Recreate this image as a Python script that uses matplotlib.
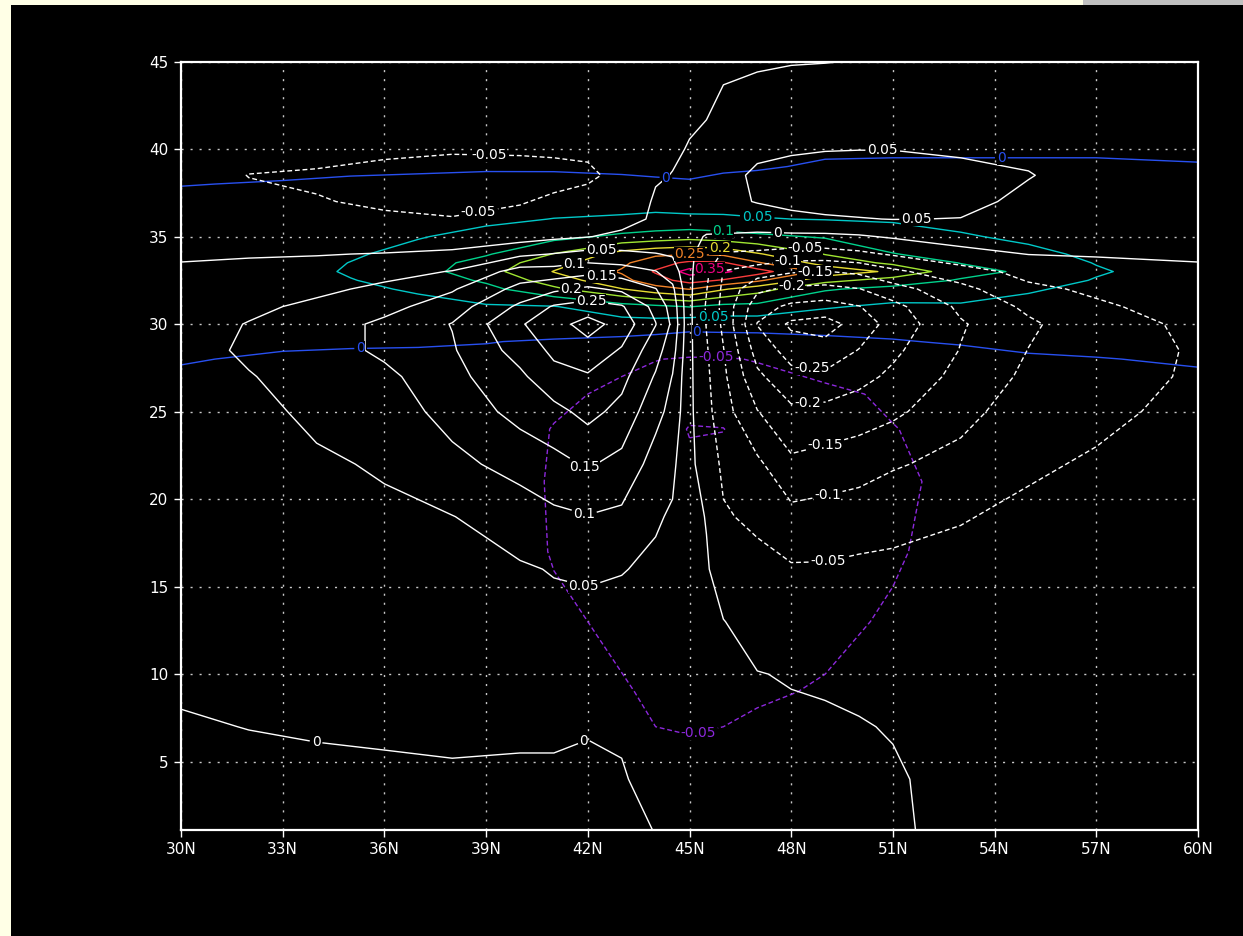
import matplotlib
matplotlib.use("Agg")
import matplotlib.pyplot as plt
import numpy as np
from matplotlib.patches import Rectangle

# ---- field A (coloured contours), one list per latitude column ----
lat_a = [30, 33, 35, 37, 39, 41, 43, 44, 45, 46, 47, 49, 51, 53, 55, 57, 60]
hgt_a = [1.1, 5, 9, 13, 17, 21, 24, 26, 28, 29, 30, 31, 32, 32.5, 33, 33.5,
         34, 35, 36, 37, 38, 39, 40, 42, 45]
field_a = [
    [-0.02, -0.02, -0.02, -0.02, -0.02, -0.02, -0.015, -0.01, 0.002, 0.008, 0.012, 0.016, 0.02, 0.02, 0.02, 0.02, 0.02, 0.017, 0.013, 0.007, -0.001, -0.008, -0.012, -0.015, -0.015],
    [-0.02, -0.02, -0.02, -0.02, -0.02, -0.02, -0.018, -0.014, -0.004, 0.005, 0.012, 0.018, 0.024, 0.027, 0.03, 0.029, 0.027, 0.022, 0.016, 0.009, 0.002, -0.008, -0.012, -0.015, -0.015],
    [-0.02, -0.02, -0.02, -0.02, -0.02, -0.02, -0.018, -0.014, -0.006, 0.004, 0.015, 0.026, 0.04, 0.048, 0.055, 0.051, 0.044, 0.033, 0.024, 0.015, 0.005, -0.006, -0.011, -0.015, -0.015],
    [-0.02, -0.02, -0.02, -0.02, -0.02, -0.02, -0.019, -0.013, -0.006, 0.003, 0.018, 0.035, 0.056, 0.068, 0.08, 0.075, 0.066, 0.047, 0.033, 0.02, 0.007, -0.005, -0.01, -0.014, -0.015],
    [-0.02, -0.02, -0.02, -0.02, -0.02, -0.02, -0.02, -0.015, -0.007, 0.001, 0.02, 0.045, 0.085, 0.108, 0.13, 0.12, 0.095, 0.065, 0.04, 0.025, 0.01, -0.004, -0.01, -0.014, -0.015],
    [-0.025, -0.028, -0.032, -0.042, -0.053, -0.055, -0.052, -0.04, -0.015, -0.003, 0.018, 0.048, 0.14, 0.175, 0.202, 0.18, 0.152, 0.085, 0.051, 0.03, 0.012, -0.005, -0.01, -0.014, -0.015],
    [-0.03, -0.035, -0.047, -0.058, -0.063, -0.065, -0.065, -0.06, -0.04, -0.012, 0.03, 0.08, 0.198, 0.235, 0.255, 0.24, 0.22, 0.11, 0.055, 0.035, 0.006, -0.005, -0.01, -0.013, -0.015],
    [-0.035, -0.045, -0.055, -0.065, -0.068, -0.07, -0.07, -0.065, -0.049, -0.02, 0.03, 0.09, 0.23, 0.28, 0.305, 0.28, 0.24, 0.12, 0.058, 0.037, 0.004, -0.006, -0.01, -0.013, -0.015],
    [-0.035, -0.045, -0.058, -0.068, -0.075, -0.085, -0.103, -0.075, -0.053, -0.025, 0.02, 0.102, 0.252, 0.32, 0.37, 0.31, 0.248, 0.13, 0.055, 0.038, 0.003, -0.008, -0.012, -0.014, -0.015],
    [-0.035, -0.044, -0.056, -0.066, -0.072, -0.082, -0.101, -0.073, -0.053, -0.022, 0.02, 0.085, 0.205, 0.295, 0.36, 0.305, 0.24, 0.12, 0.055, 0.036, 0.01, -0.006, -0.01, -0.013, -0.015],
    [-0.032, -0.04, -0.053, -0.063, -0.07, -0.075, -0.074, -0.068, -0.048, -0.02, 0.02, 0.085, 0.17, 0.26, 0.32, 0.255, 0.205, 0.11, 0.052, 0.035, 0.014, -0.004, -0.01, -0.013, -0.015],
    [-0.03, -0.037, -0.048, -0.056, -0.06, -0.062, -0.062, -0.057, -0.035, -0.008, 0.015, 0.055, 0.105, 0.165, 0.235, 0.18, 0.148, 0.095, 0.048, 0.035, 0.02, 0.005, -0.007, -0.012, -0.015],
    [-0.028, -0.033, -0.04, -0.047, -0.053, -0.056, -0.051, -0.045, -0.02, -0.002, 0.012, 0.04, 0.085, 0.13, 0.19, 0.14, 0.102, 0.07, 0.045, 0.034, 0.022, 0.008, -0.008, -0.012, -0.015],
    [-0.025, -0.028, -0.032, -0.037, -0.04, -0.042, -0.04, -0.032, -0.012, 0.003, 0.015, 0.045, 0.07, 0.095, 0.12, 0.098, 0.08, 0.054, 0.038, 0.03, 0.02, 0.007, -0.007, -0.012, -0.015],
    [-0.022, -0.024, -0.026, -0.028, -0.03, -0.03, -0.028, -0.02, -0.004, 0.008, 0.018, 0.035, 0.055, 0.072, 0.09, 0.075, 0.06, 0.042, 0.032, 0.025, 0.017, 0.006, -0.006, -0.012, -0.015],
    [-0.02, -0.022, -0.023, -0.024, -0.025, -0.025, -0.022, -0.015, -0.001, 0.008, 0.016, 0.026, 0.038, 0.047, 0.055, 0.048, 0.042, 0.032, 0.026, 0.02, 0.014, 0.005, -0.005, -0.011, -0.015],
    [-0.02, -0.02, -0.02, -0.02, -0.02, -0.02, -0.018, -0.01, 0.003, 0.008, 0.013, 0.018, 0.022, 0.024, 0.025, 0.024, 0.022, 0.019, 0.016, 0.012, 0.008, 0.002, -0.006, -0.01, -0.015],
]
levels_a = [-0.1, -0.05, 0, 0.05, 0.1, 0.15, 0.2, 0.25, 0.3, 0.35]
colors_a = ["#8c28dc", "#8c28dc", "#2850f0", "#00c8c8", "#00d28c", "#a0e632",
            "#e6dc32", "#f08228", "#fa3c3c", "#f00082"]

# ---- field B (white contours), one list per latitude column ----
lat_b = [30, 32, 34, 36, 38, 40, 41, 42, 43, 44, 44.5, 45, 45.5, 46, 47, 48,
         49, 50, 51, 53, 55, 57, 60]
hgt_b = [1.1, 4, 7, 10, 13, 16, 19, 22, 25, 27, 28.5, 30, 31, 32, 33, 34, 35,
         36, 37, 38.5, 40, 42, 45]
field_b = [
    [-0.03, -0.02, -0.005, 0.01, 0.02, 0.025, 0.03, 0.03, 0.03, 0.035, 0.035, 0.03, 0.025, 0.018, 0.006, -0.005, -0.015, -0.02, -0.025, -0.025, -0.02, -0.015, -0.01],
    [-0.03, -0.015, 0.001, 0.015, 0.025, 0.03, 0.033, 0.037, 0.042, 0.048, 0.056, 0.052, 0.04, 0.025, 0.01, -0.003, -0.02, -0.03, -0.04, -0.051, -0.03, -0.02, -0.01],
    [-0.025, -0.012, 0.005, 0.02, 0.03, 0.035, 0.04, 0.046, 0.056, 0.065, 0.075, 0.075, 0.06, 0.04, 0.018, -0.002, -0.025, -0.04, -0.048, -0.055, -0.035, -0.02, -0.01],
    [-0.02, -0.01, 0.008, 0.025, 0.035, 0.04, 0.045, 0.053, 0.07, 0.088, 0.11, 0.11, 0.085, 0.06, 0.035, 0.002, -0.03, -0.045, -0.055, -0.065, -0.04, -0.02, -0.01],
    [-0.02, -0.008, 0.012, 0.028, 0.038, 0.044, 0.049, 0.085, 0.12, 0.135, 0.145, 0.152, 0.125, 0.095, 0.052, 0.01, -0.03, -0.048, -0.062, -0.07, -0.045, -0.022, -0.01],
    [-0.018, -0.008, 0.008, 0.025, 0.037, 0.046, 0.07, 0.12, 0.165, 0.19, 0.22, 0.245, 0.21, 0.165, 0.12, 0.04, -0.02, -0.042, -0.052, -0.065, -0.045, -0.022, -0.01],
    [-0.017, -0.006, 0.006, 0.025, 0.04, 0.052, 0.09, 0.135, 0.185, 0.235, 0.26, 0.28, 0.255, 0.19, 0.12, 0.052, -0.01, -0.035, -0.045, -0.06, -0.045, -0.022, -0.01],
    [-0.015, -0.006, 0.002, 0.025, 0.04, 0.055, 0.098, 0.155, 0.215, 0.245, 0.28, 0.32, 0.27, 0.21, 0.135, 0.065, -0.002, -0.025, -0.04, -0.055, -0.045, -0.022, -0.01],
    [-0.01, -0.002, 0.003, 0.02, 0.035, 0.052, 0.09, 0.135, 0.185, 0.215, 0.245, 0.28, 0.255, 0.19, 0.125, 0.06, 0.012, -0.02, -0.03, -0.042, -0.03, -0.018, -0.008],
    [0.001, 0.008, 0.015, 0.022, 0.03, 0.042, 0.055, 0.08, 0.115, 0.145, 0.17, 0.202, 0.185, 0.152, 0.102, 0.052, 0.015, 0.008, 0.005, -0.004, -0.01, -0.012, -0.008],
    [0.005, 0.01, 0.015, 0.02, 0.025, 0.035, 0.045, 0.06, 0.085, 0.098, 0.12, 0.14, 0.13, 0.11, 0.075, 0.045, 0.02, 0.012, 0.008, 0.001, -0.005, -0.008, -0.006],
    [0.015, 0.018, 0.02, 0.02, 0.02, 0.02, 0.015, 0.01, 0.01, 0.01, 0.01, 0.01, 0.01, 0.01, 0.01, 0.01, 0.012, 0.015, 0.015, 0.01, 0.002, -0.005, -0.005],
    [0.015, 0.015, 0.015, 0.012, 0.01, 0.004, -0.002, -0.02, -0.035, -0.04, -0.045, -0.052, -0.055, -0.048, -0.04, -0.025, -0.003, 0.02, 0.03, 0.025, 0.01, -0.002, -0.004],
    [0.012, 0.012, 0.01, 0.007, 0.001, -0.02, -0.045, -0.06, -0.08, -0.09, -0.098, -0.11, -0.115, -0.11, -0.102, -0.055, -0.005, 0.025, 0.04, 0.035, 0.025, 0.01, -0.008],
    [0.01, 0.01, 0.006, 0.001, -0.015, -0.035, -0.06, -0.09, -0.148, -0.19, -0.22, -0.252, -0.23, -0.19, -0.125, -0.06, -0.01, 0.03, 0.052, 0.058, 0.04, 0.02, -0.005],
    [0.012, 0.01, 0.005, -0.002, -0.02, -0.045, -0.085, -0.14, -0.19, -0.235, -0.27, -0.31, -0.26, -0.21, -0.145, -0.07, -0.01, 0.04, 0.06, 0.065, 0.045, 0.025, -0.002],
    [0.015, 0.012, 0.005, -0.005, -0.022, -0.045, -0.08, -0.13, -0.185, -0.24, -0.28, -0.32, -0.27, -0.215, -0.152, -0.07, -0.01, 0.045, 0.065, 0.07, 0.048, 0.03, -0.001],
    [0.012, 0.008, 0.002, -0.008, -0.025, -0.04, -0.075, -0.12, -0.175, -0.215, -0.248, -0.28, -0.252, -0.202, -0.14, -0.06, -0.005, 0.048, 0.068, 0.072, 0.049, 0.03, 0.001],
    [0.005, 0.004, -0.002, -0.01, -0.025, -0.04, -0.065, -0.105, -0.16, -0.19, -0.21, -0.23, -0.215, -0.17, -0.11, -0.045, 0.005, 0.051, 0.068, 0.07, 0.049, 0.03, 0.005],
    [-0.01, -0.012, -0.015, -0.02, -0.03, -0.04, -0.052, -0.085, -0.115, -0.135, -0.148, -0.155, -0.14, -0.115, -0.07, -0.015, 0.02, 0.049, 0.062, 0.06, 0.045, 0.03, 0.008],
    [-0.012, -0.014, -0.017, -0.022, -0.028, -0.035, -0.043, -0.055, -0.075, -0.09, -0.099, -0.108, -0.09, -0.06, -0.035, 0.001, 0.02, 0.03, 0.04, 0.052, 0.04, 0.025, 0.008],
    [-0.012, -0.014, -0.016, -0.02, -0.025, -0.03, -0.037, -0.046, -0.058, -0.068, -0.072, -0.07, -0.057, -0.042, -0.015, 0.003, 0.015, 0.022, 0.028, 0.032, 0.03, 0.02, 0.008],
    [-0.01, -0.012, -0.014, -0.017, -0.02, -0.025, -0.03, -0.035, -0.04, -0.044, -0.045, -0.04, -0.03, -0.02, -0.006, 0.005, 0.012, 0.016, 0.02, 0.022, 0.02, 0.015, 0.008],
]
levels_b = [-0.3, -0.25, -0.2, -0.15, -0.1, -0.05, 0, 0.05, 0.1, 0.15, 0.2, 0.25, 0.3]

xticks = [30, 33, 36, 39, 42, 45, 48, 51, 54, 57, 60]
xlabels = [f"{v}N" for v in xticks]
yticks = [5, 10, 15, 20, 25, 30, 35, 40, 45]

W, H = 1243, 936
fig = plt.figure(figsize=(W / 100, H / 100), dpi=100, facecolor="#ffffe6")
fig.patches.append(Rectangle((11 / W, 0), 1 - 11 / W, 1 - 5 / H, transform=fig.transFigure,
                             facecolor="black", edgecolor="none", zorder=-10))
fig.patches.append(Rectangle((1083 / W, 1 - 5 / H), 1 - 1083 / W, 5 / H, transform=fig.transFigure,
                             facecolor="#c0c0c0", edgecolor="none", zorder=-10))

ax = fig.add_axes([181 / W, 1 - 830 / H, (1198 - 181) / W, (830 - 61.5) / H])
ax.set_facecolor("black")
ax.set_xlim(30, 60)
ax.set_ylim(1.1, 45)

dash = (0, (3.5, 2))
za = np.array(field_a).T
zb = np.array(field_b).T

styles_a = [dash if v < 0 else "solid" for v in levels_a]
cs_a = ax.contour(lat_a, hgt_a, za, levels=levels_a, colors=colors_a,
                  linewidths=1.0, linestyles=styles_a, zorder=3)
styles_b = [dash if v < 0 else "solid" for v in levels_b]
cs_b = ax.contour(lat_b, hgt_b, zb, levels=levels_b, colors="white",
                  linewidths=1.0, linestyles=styles_b, zorder=4)

fmt = lambda v: f"{v:g}"
# label anchor points (layout only)
lab_a = [(44.3, 38.2), (54.2, 39.3), (35.3, 28.7), (45.2, 29.7), (47.0, 36.2),
         (45.7, 30.5), (46.0, 35.3), (45.9, 34.4), (45.0, 34.1), (45.6, 33.0),
         (45.8, 28.1), (45.3, 6.4)]
lab_b = [(39.1, 39.95), (38.8, 36.1), (50.7, 39.95), (51.7, 35.8), (47.6, 35.3),
         (48.4, 34.35), (47.9, 33.6), (48.7, 33.0), (48.0, 32.3), (42.4, 34.2),
         (41.6, 33.5), (42.4, 32.8), (41.5, 32.2), (42.1, 31.4), (48.6, 27.3),
         (48.5, 25.4), (49.1, 22.4), (49.1, 20.0), (49.1, 16.4), (41.9, 21.8),
         (41.9, 19.2), (41.9, 15.2), (34.0, 6.3), (41.9, 6.1)]

txt_a = ax.clabel(cs_a, manual=lab_a, inline=True, inline_spacing=2, fmt=fmt, fontsize=10)
txt_b = ax.clabel(cs_b, manual=lab_b, inline=True, inline_spacing=2, fmt=fmt, fontsize=10)
for t in list(txt_a) + list(txt_b):
    t.set_rotation(0)
    t.set_bbox(dict(facecolor="black", edgecolor="none", pad=0.0))
for t in txt_a:
    t.set_zorder(5)
for t in txt_b:
    t.set_zorder(6)

ax.set_xticks(xticks)
ax.set_xticklabels(xlabels)
ax.set_yticks(yticks)
ax.grid(True, color="#c8c8c8", linestyle=(0, (1.5, 5)), linewidth=1.0)
ax.set_axisbelow(True)
ax.tick_params(colors="white", labelcolor="white", labelsize=11, length=5,
               width=1, direction="out", pad=4)
for s in ax.spines.values():
    s.set_color("white")
    s.set_linewidth(1.6)
    s.set_zorder(7)

fig.savefig("out.png", dpi=100, facecolor=fig.get_facecolor())
